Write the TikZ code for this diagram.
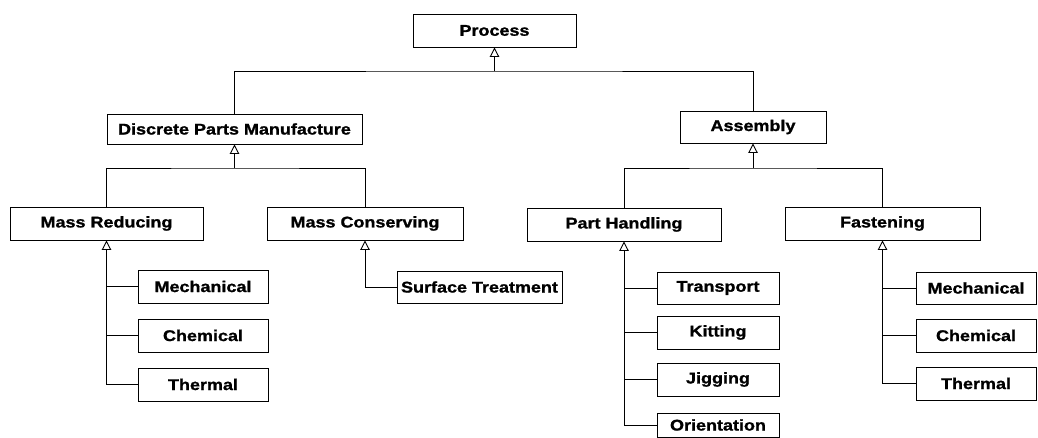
\documentclass[tikz,border=0pt]{standalone}
\usepackage{fontspec}
\setmainfont{Liberation Sans}[FakeStretch=1.16,BoldFeatures={FakeBold=1.2}]
\usetikzlibrary{arrows.meta}
\begin{document}
\begin{tikzpicture}[x=1pt,y=-1pt,
  every node/.style={font=\fontsize{15.5}{17}\selectfont\bfseries},
  box/.style={draw, line width=0.9pt, inner sep=0pt, minimum height=33pt},
  kid/.style={box, minimum width=122pt, minimum height=32pt},
  line/.style={line width=0.9pt},
  gen/.style={line, -{Triangle[open,length=9.5pt,width=9.5pt,line width=0.9pt]}}]
\useasboundingbox (0,0) rectangle (1038,438);
% top
\node[box, minimum width=163pt] (process) at (494.5,30.5) {Process};
\node[box, minimum width=255pt, minimum height=30pt] (dpm) at (234.5,129) {Discrete Parts Manufacture};
\node[box, minimum width=146pt, minimum height=32pt] (asm) at (753,127) {Assembly};
% level 2
\node[box, minimum width=193pt] (mr) at (106.5,223.5) {Mass Reducing};
\node[box, minimum width=196pt] (mc) at (365,223.5) {Mass Conserving};
\node[box, minimum width=194pt] (ph) at (624,224.5) {Part Handling};
\node[box, minimum width=195pt] (fa) at (882.5,223.5) {Fastening};
% level 3
\node[kid, minimum width=130pt, minimum height=33pt] (m1) at (203,286.5) {Mechanical};
\node[kid, minimum width=130pt, minimum height=33pt] (c1) at (203,335.5) {Chemical};
\node[kid, minimum width=130pt, minimum height=33pt] (t1) at (203,384.5) {Thermal};
\node[kid, minimum width=165pt] (st) at (479.5,287) {Surface Treatment};
\node[kid] (tr) at (718,288) {Transport};
\node[kid, minimum height=33pt] (ki) at (718,332.5) {Kitting};
\node[kid, minimum height=33pt] (ji) at (718,379.5) {Jigging};
\node[kid, minimum height=24pt] (ori) at (718,425) {Orientation};
\node[kid, minimum width=120pt] (fm) at (976,288) {Mechanical};
\node[kid, minimum width=120pt, minimum height=33pt] (fc) at (976,335.5) {Chemical};
\node[kid, minimum width=120pt, minimum height=33pt] (ft) at (976,383.5) {Thermal};
% junctions
\coordinate (j0) at (494.5,71);
\coordinate (j1) at (234.5,168);
\coordinate (j2) at (753,168);
% level 1 connectors
\draw[gen] (j0) -- (process.south);
\draw[line] (dpm.north) |- (j0) -| (asm.north);
% level 2 connectors
\draw[gen] (j1) -- (dpm.south);
\draw[line] (mr.north) |- (j1) -| (mc.north);
\draw[gen] (j2) -- (asm.south);
\draw[line] (ph.north) |- (j2) -| (fa.north);
% mass reducing children
\draw[gen] (t1.west) -| (mr.south);
\draw[line] (m1.west) -- (m1.west -| mr.south);
\draw[line] (c1.west) -- (c1.west -| mr.south);
% mass conserving child
\draw[gen] (st.west) -| (mc.south);
% part handling children
\draw[gen] (ori.west) -| (ph.south);
\draw[line] (tr.west) -- (tr.west -| ph.south);
\draw[line] (ki.west) -- (ki.west -| ph.south);
\draw[line] (ji.west) -- (ji.west -| ph.south);
% fastening children
\draw[gen] (ft.west) -| (fa.south);
\draw[line] (fm.west) -- (fm.west -| fa.south);
\draw[line] (fc.west) -- (fc.west -| fa.south);
\end{tikzpicture}
\end{document}
